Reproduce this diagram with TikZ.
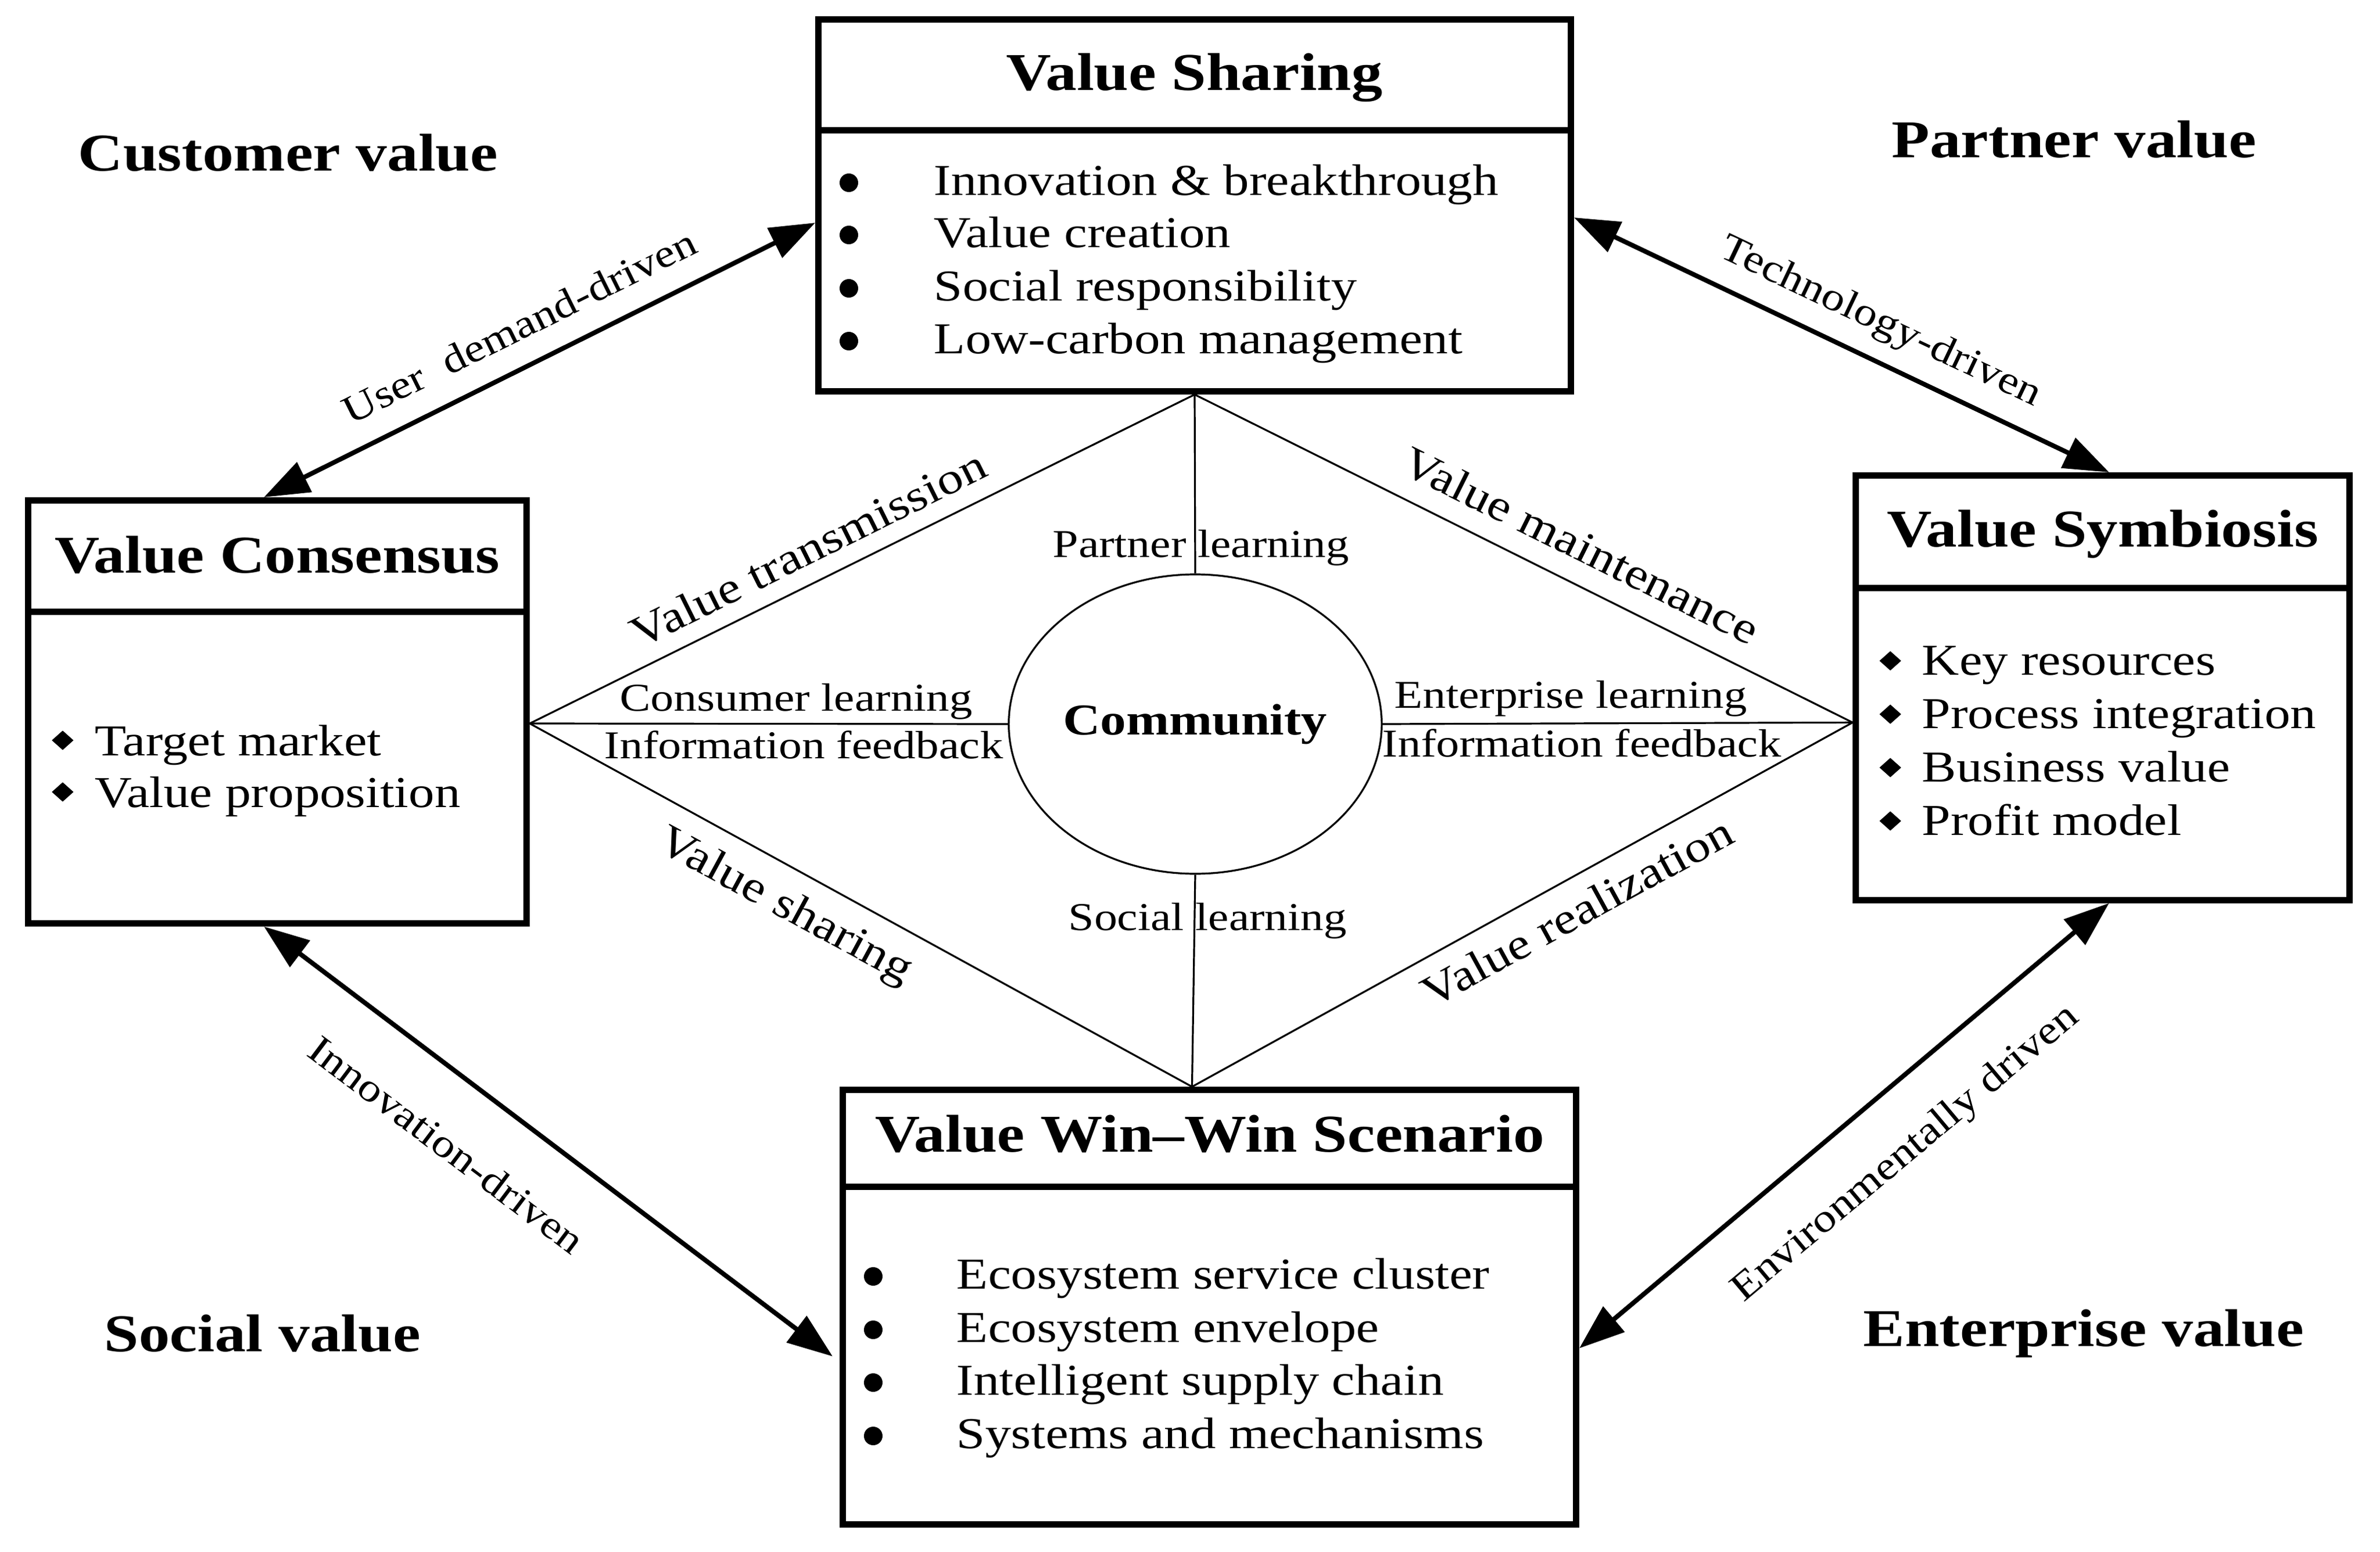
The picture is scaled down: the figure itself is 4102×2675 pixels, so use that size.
\documentclass[tikz,border=0pt]{standalone}
\usepackage{fontspec}
\setmainfont{Liberation Serif}[FakeStretch=1.17]
\usetikzlibrary{arrows.meta,shapes.geometric,calc}
\begin{document}
\begin{tikzpicture}[x=0.25pt,y=-0.25pt,
  box/.style={draw, line width=2.75pt, rectangle, inner sep=0pt},
  divl/.style={line width=2.75pt},
  thinl/.style={line width=0.8pt},
  arr/.style={line width=2pt, {Triangle[length=19.5pt,width=14pt]}-{Triangle[length=19.5pt,width=14pt]}},
  ttl/.style={font=\fontsize{22.9}{26}\selectfont\bfseries, inner sep=0pt, anchor=base},
  corner/.style={font=\fontsize{22.9}{26}\selectfont\bfseries, inner sep=0pt, anchor=base west},
  item/.style={font=\fontsize{19}{22}\selectfont, inner sep=0pt, anchor=base west},
  lbl/.style={font=\fontsize{17}{20}\selectfont, inner sep=0pt, anchor=base west},
  rlbl/.style={font=\fontsize{19}{22}\selectfont, inner sep=0pt},
  clbl/.style={font=\fontsize{17}{20}\selectfont, inner sep=0pt},
  cbul/.style={circle, fill, inner sep=0pt, minimum size=8pt},
  dbul/.style={diamond, fill, inner sep=0pt, minimum width=9.5pt, minimum height=8.5pt},
]
\useasboundingbox (0,0) rectangle (4102,2675);

% boxes
\node[box, minimum width=324.25pt, minimum height=160.25pt] (vs) at (2059,354) {};
\node[box, minimum width=214.75pt, minimum height=182.25pt] (vc) at (478,1227) {};
\node[box, minimum width=212.75pt, minimum height=182.9pt] (vsy) at (3624,1185.3) {};
\node[box, minimum width=316pt, minimum height=187.1pt] (ww) at (2084.5,2252.8) {};

\draw[divl] (vs.west |- 0,225) -- (vs.east |- 0,225);
\draw[divl] (vc.west |- 0,1054) -- (vc.east |- 0,1054);
\draw[divl] (vsy.west |- 0,1013) -- (vsy.east |- 0,1013);
\draw[divl] (ww.west |- 0,2045) -- (ww.east |- 0,2045);

% titles
\node[ttl] (tvs) at (2059,156) {Value Sharing};
\node[ttl] (tvc) at (478,987) {Value Consensus};
\node[ttl] (tvsy) at (3624,942) {Value Symbiosis};
\node[ttl] (tww) at (2085,1985) {Value Win–Win Scenario};

% Value Sharing items
\node[cbul] (b1) at (1463,315) {};
\node[cbul] (b2) at (1463,405) {};
\node[cbul] (b3) at (1463,497) {};
\node[cbul] (b4) at (1463,588) {};
\node[item] (i1) at (1609,337) {Innovation \& breakthrough};
\node[item] (i2) at (1609,427) {Value creation};
\node[item] (i3) at (1609,519) {Social responsibility};
\node[item] (i4) at (1609,610) {Low-carbon management};

% Value Consensus items
\node[dbul] (c1) at (108,1276) {};
\node[dbul] (c2) at (108,1365) {};
\node[item] (j1) at (163,1302) {Target market};
\node[item] (j2) at (163,1391) {Value proposition};

% Value Symbiosis items
\node[dbul] (s1) at (3258,1139) {};
\node[dbul] (s2) at (3258,1231) {};
\node[dbul] (s3) at (3258,1323) {};
\node[dbul] (s4) at (3258,1415) {};
\node[item] (k1) at (3312,1163) {Key resources};
\node[item] (k2) at (3312,1255) {Process integration};
\node[item] (k3) at (3312,1347) {Business value};
\node[item] (k4) at (3312,1439) {Profit model};

% Win-Win items
\node[cbul] (w1) at (1505,2200) {};
\node[cbul] (w2) at (1505,2292) {};
\node[cbul] (w3) at (1505,2383) {};
\node[cbul] (w4) at (1505,2475) {};
\node[item] (m1) at (1648,2221) {Ecosystem service cluster};
\node[item] (m2) at (1648,2313) {Ecosystem envelope};
\node[item] (m3) at (1648,2404) {Intelligent supply chain};
\node[item] (m4) at (1648,2496) {Systems and mechanisms};

% corner labels
\node[corner] (cv) at (134,295) {Customer value};
\node[corner] (pv) at (3260,272) {Partner value};
\node[corner] (sv) at (179,2329) {Social value};
\node[corner] (ev) at (3211,2320) {Enterprise value};

% diamond and community
\coordinate (dt) at (vs.south);
\coordinate (dl) at ([yshift=-5pt]vc.east);
\coordinate (dr) at ([yshift=-15pt]vsy.west);
\coordinate (db) at ([xshift=-7.5pt]ww.north);
\node[ellipse, draw, thinl, minimum width=152pt, minimum height=129pt, inner sep=0pt,
      font=\fontsize{19}{22}\selectfont\bfseries] (comm) at (2060,1248) {Community};
\draw[thinl] (dl) -- (dt) -- (dr) -- (db) -- cycle;
\draw[thinl] (dl) -- (comm.west);
\draw[thinl] (comm.east) -- (dr);
\draw[thinl] (dt) -- (comm.north);
\draw[thinl] (comm.south) -- (db);

% learning labels
\node[lbl] (pl) at (1814,960) {Partner learning};
\node[lbl] (sl) at (1841,1603) {Social learning};
\node[lbl] (cl) at (1068,1225) {Consumer learning};
\node[lbl] (if1) at (1041,1307) {Information feedback};
\node[lbl] (el) at (2403,1220) {Enterprise learning};
\node[lbl] (if2) at (2382,1304) {Information feedback};

% diamond edge labels
\node[rlbl, rotate=26.4] (vt) at (1393,946) {Value transmission};
\node[rlbl, rotate=-26.4] (vm) at (2725,940) {Value maintenance};
\node[rlbl, rotate=-28.5] (vsh) at (1352,1564) {Value sharing};
\node[rlbl, rotate=28.7] (vr) at (2718,1572) {Value realization};

% arrows
\draw[arr] ([xshift=-5.75pt]vc.north) -- ([yshift=-7.5pt]vs.west);
\draw[arr] ([yshift=-5.25pt]vs.east) -- ([xshift=2.75pt]vsy.north);
\draw[arr] ([xshift=-5.75pt]vc.south) -- ([xshift=-3pt,yshift=-21.25pt]ww.west);
\draw[arr] ([xshift=2.75pt]vsy.south) -- ([yshift=-17.75pt]ww.east);

% arrow labels
\node[clbl, rotate=26.4] (ud) at (895,562) {User\ \ demand-driven};
\node[clbl, rotate=-25.4, anchor=base] (td) at (3233,571) {Technology-driven};
\node[clbl, rotate=-37] (id) at (770,1973) {Innovation-driven};
\node[clbl, rotate=40] (ed) at (3285,1989) {Environmentally driven};
\end{tikzpicture}
\end{document}
